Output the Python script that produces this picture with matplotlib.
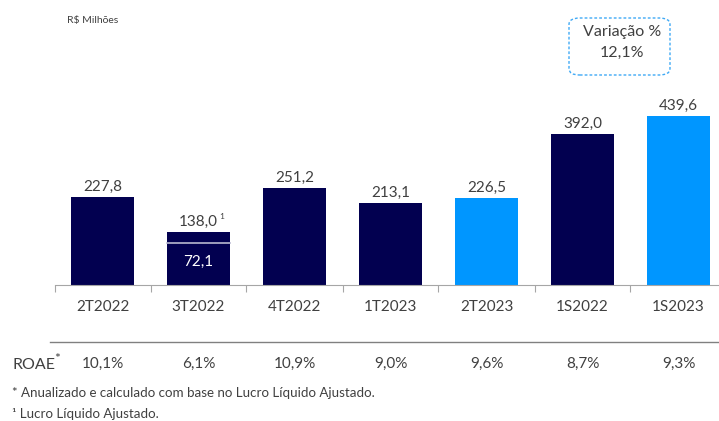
import numpy as np
import matplotlib.pyplot as plt
from matplotlib.patches import FancyBboxPatch

categories = ['2T2022', '3T2022', '4T2022', '1T2023', '2T2023', '1S2022', '1S2023']
lucro = [227.8, 138.0, 251.2, 213.1, 226.5, 392.0, 439.6]
value_labels = ['227,8', '138,0', '251,2', '213,1', '226,5', '392,0', '439,6']
roae = ['10,1%', '6,1%', '10,9%', '9,0%', '9,6%', '8,7%', '9,3%']
reported_3t = 72.1
reported_label = '72,1'
divider_3t = 110  # estimated position of the white split line in the 3T2022 bar
variacao = '12,1%'

DARK = '#020050'
LIGHT = '#0096FF'
GRAY = '#404040'
colors = [DARK, DARK, DARK, DARK, LIGHT, DARK, LIGHT]


def main():
    plt.rcParams['font.family'] = ['Lato', 'DejaVu Sans']
    W, H = 719, 421
    fig = plt.figure(figsize=(W / 100, H / 100), dpi=100)

    left = 54.5 / W
    bottom = (H - 285) / H
    ax = fig.add_axes([left, bottom, 1 - left, 184.6 / H])
    x = np.arange(len(categories))

    ax.bar(x, lucro, width=0.66, color=colors, zorder=2)
    for xi, v, lab in zip(x, lucro, value_labels):
        ax.text(xi, v + 8, lab, ha='center', va='bottom', fontsize=11, color=GRAY)
    # superscript marker on 3T2022
    ax.text(1 + 0.22, lucro[1] + 30, '1', ha='left', va='bottom', fontsize=6, color=GRAY)
    # split line and reported value inside 3T2022
    ax.plot([1 - 0.33, 1 + 0.33], [divider_3t, divider_3t], color='#b8b8d0', lw=1.2, zorder=3)
    ax.text(1, divider_3t / 2 + 6, reported_label, ha='center', va='center', fontsize=11, color='white')

    for s in ['top', 'right', 'left']:
        ax.spines[s].set_visible(False)
    ax.spines['bottom'].set_color('#a6a6a6')
    ax.set_yticks([])
    ax.set_xticks(np.arange(len(categories)) - 0.5)
    ax.set_xticklabels([])
    ax.tick_params(axis='x', length=5, color='#a6a6a6', width=0.8)
    ax.set_xlim(-0.5, -0.5 + (W - 54.5) / 96)
    ax.set_ylim(0, 480)

    for xi, c in zip(x, categories):
        px = 54.5 + (xi + 0.5) * 96
        fig.text(px / W, (H - 307) / H, c, ha='center', va='center', fontsize=11, color=GRAY)

    # ROAE row
    fig.add_artist(plt.Line2D([50 / W, 1], [(H - 342) / H] * 2, color='#808080', lw=1))
    fig.text(12 / W, (H - 365) / H, 'ROAE', fontsize=11.5, color=GRAY, va='center')
    fig.text(54 / W, (H - 359) / H, '*', fontsize=10, color=GRAY, va='center')
    for xi, r in zip(x, roae):
        px = 54.5 + (xi + 0.5) * 96
        fig.text(px / W, (H - 364) / H, r, ha='center', va='center', fontsize=11, color=GRAY)

    fig.text(12 / W, (H - 393) / H, '* Anualizado e calculado com base no Lucro Líquido Ajustado.',
             fontsize=9.6, color=GRAY, va='center')
    fig.text(12 / W, (H - 414) / H, '\u00b9 Lucro Líquido Ajustado.',
             fontsize=9.6, color=GRAY, va='center')
    fig.text(67 / W, (H - 21) / H, 'R$ Milhões', fontsize=7.5, color=GRAY, va='center')

    box = FancyBboxPatch((569 / W, (H - 75) / H), 101 / W, 57 / H,
                         boxstyle='round,pad=0,rounding_size=0.015',
                         transform=fig.transFigure, fill=False, edgecolor='#3fa9f5',
                         linestyle=(0, (2, 1.5)), lw=1)
    fig.add_artist(box)
    fig.text(622 / W, (H - 32) / H, 'Variação %', ha='center', va='center', fontsize=11.5, color=GRAY)
    fig.text(622 / W, (H - 53) / H, variacao, ha='center', va='center', fontsize=11.5, color=GRAY)

    fig.savefig('out.png', dpi=100)


if __name__ == '__main__':
    main()
